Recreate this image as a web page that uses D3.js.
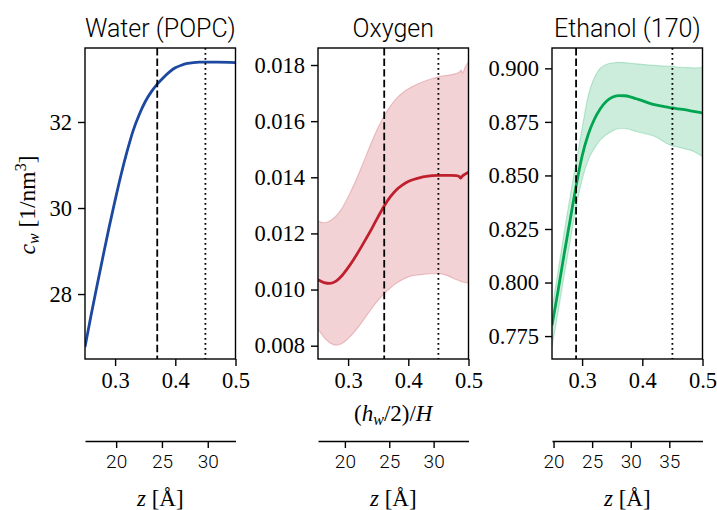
<!DOCTYPE html>
<html><head><meta charset="utf-8">
<script src="https://cdn.jsdelivr.net/npm/d3@7"></script>
<style>body{margin:0;background:#fff}</style>
</head><body>
<svg id="chart" width="717" height="510"></svg>
<script>
// ---------- DATA ----------
const titles = ["Water (POPC)", "Oxygen", "Ethanol (170)"];
const ratioTicks = [0.3, 0.4, 0.5];
const dashedPos = [0.37, 0.36, 0.29];
const dottedPos = [0.45, 0.45, 0.45];

const waterX = [0.25,0.26,0.27,0.28,0.29,0.30,0.31,0.32,0.33,0.34,0.35,0.36,0.37,0.38,0.39,0.40,0.41,0.42,0.43,0.44,0.45,0.47,0.50];
const waterY = [26.77,27.50,28.20,28.88,29.55,30.18,30.78,31.32,31.80,32.17,32.47,32.70,32.88,33.03,33.16,33.26,33.32,33.36,33.38,33.39,33.39,33.39,33.38];
const waterTicks = [28, 30, 32];

const oxyX = [0.25,0.26,0.27,0.28,0.29,0.30,0.31,0.32,0.33,0.34,0.35,0.36,0.37,0.38,0.39,0.40,0.41,0.42,0.43,0.44,0.45,0.46,0.47,0.48,0.485,0.487,0.49,0.495,0.50];
const oxyMean = [0.01035,0.01025,0.01022,0.01030,0.01050,0.01078,0.01110,0.01145,0.01182,0.01220,0.01260,0.01298,0.01330,0.01355,0.01372,0.01385,0.01393,0.01399,0.01403,0.01406,0.01407,0.01407,0.01407,0.01406,0.01402,0.01397,0.01405,0.01412,0.01418];
const oxyBandX = [0.25,0.26,0.27,0.28,0.29,0.30,0.31,0.32,0.33,0.34,0.35,0.36,0.37,0.38,0.39,0.40,0.42,0.44,0.45,0.46,0.47,0.48,0.485,0.488,0.49,0.495,0.50];
const oxyUpper = [0.01245,0.01238,0.01245,0.01262,0.01290,0.01330,0.01375,0.01425,0.01478,0.01530,0.01578,0.01620,0.01653,0.01680,0.01700,0.01715,0.01737,0.01752,0.01758,0.01762,0.01765,0.01770,0.01775,0.01782,0.01772,0.01795,0.01810];
const oxyLower = [0.00860,0.00830,0.00810,0.00802,0.00808,0.00825,0.00848,0.00875,0.00905,0.00935,0.00962,0.00985,0.01005,0.01022,0.01035,0.01045,0.01053,0.01057,0.01057,0.01053,0.01045,0.01035,0.01031,0.01029,0.01027,0.01025,0.01024];
const oxyTicks = [0.008, 0.010, 0.012, 0.014, 0.016, 0.018];

const ethX = [0.25,0.26,0.27,0.28,0.29,0.30,0.31,0.32,0.33,0.34,0.35,0.36,0.37,0.38,0.39,0.40,0.41,0.42,0.43,0.44,0.45,0.46,0.47,0.48,0.49,0.50];
const ethMean = [0.780,0.796,0.813,0.829,0.845,0.859,0.869,0.876,0.881,0.8845,0.8865,0.8873,0.8872,0.8867,0.8858,0.8849,0.8839,0.8831,0.8825,0.8820,0.8815,0.8811,0.8807,0.8802,0.8797,0.8792];
const ethUpper = [0.788,0.805,0.823,0.840,0.856,0.872,0.887,0.8955,0.900,0.9018,0.9025,0.9028,0.9027,0.9024,0.9021,0.9019,0.9016,0.9014,0.9012,0.9010,0.9010,0.9005,0.9004,0.9003,0.9002,0.9005];
const ethLower = [0.770,0.786,0.803,0.819,0.835,0.848,0.857,0.8625,0.8665,0.869,0.8708,0.8718,0.872,0.8714,0.8705,0.8698,0.8692,0.8683,0.8668,0.865,0.8638,0.8632,0.8625,0.8618,0.8605,0.8588];
const ethTicks = [0.775, 0.800, 0.825, 0.850, 0.875, 0.900];

const yDomains = [[26.49, 33.72], [0.007526, 0.018606], [0.7643, 0.9095]];
const zDomains = [[16.6, 33.03], [16.97, 33.93], [19.8, 39.3]];
const zTicks = [[20, 25, 30], [20, 25, 30], [20, 25, 30, 35]];

// ---------- LAYOUT ----------
const svg = d3.select("#chart");
const panelLeft = [85, 318, 552];
const panelW = 150.5;
const plotTop = 48, plotBottom = 359;
const zAxisY = 441;
const serif = "'Liberation Serif', 'DejaVu Serif', serif";
const sans = "Roboto, 'Open Sans', sans-serif";
const colors = ["#1c48a0", "#c0202e", "#00a550"];

const yFormats = [d3.format("d"), d3.format(".3f"), d3.format(".3f")];
const yTicksAll = [waterTicks, oxyTicks, ethTicks];

for (let i = 0; i < 3; i++) {
  const x0 = panelLeft[i];
  const x = d3.scaleLinear().domain([0.25, 0.5]).range([x0, x0 + panelW]);
  const y = d3.scaleLinear().domain(yDomains[i]).range([plotBottom, plotTop]);
  const g = svg.append("g");
  const clipId = "clip" + i;
  svg.append("clipPath").attr("id", clipId).append("rect")
    .attr("x", x0).attr("y", plotTop).attr("width", panelW).attr("height", plotBottom - plotTop);
  const plot = g.append("g").attr("clip-path", `url(#${clipId})`);

  if (i === 0) {
    const line = d3.line().x((d, k) => x(waterX[k])).y(d => y(d)).curve(d3.curveMonotoneX);
    plot.append("path").attr("d", line(waterY)).attr("fill", "none")
      .attr("stroke", colors[0]).attr("stroke-width", 2.8);
  } else {
    const bx = i === 1 ? oxyBandX : ethX;
    const up = i === 1 ? oxyUpper : ethUpper;
    const lo = i === 1 ? oxyLower : ethLower;
    const mx = i === 1 ? oxyX : ethX;
    const mv = i === 1 ? oxyMean : ethMean;
    const area = d3.area().x((d, k) => x(bx[k])).y0((d, k) => y(lo[k])).y1(d => y(d)).curve(d3.curveMonotoneX);
    plot.append("path").attr("d", area(up)).attr("fill", colors[i]).attr("fill-opacity", 0.2);
    const lineU = d3.line().x((d, k) => x(bx[k])).y(d => y(d)).curve(d3.curveMonotoneX);
    plot.append("path").attr("d", lineU(up)).attr("fill", "none").attr("stroke", colors[i]).attr("stroke-opacity", 0.22).attr("stroke-width", 1.2);
    plot.append("path").attr("d", lineU(lo)).attr("fill", "none").attr("stroke", colors[i]).attr("stroke-opacity", 0.22).attr("stroke-width", 1.2);
    const line = d3.line().x((d, k) => x(mx[k])).y(d => y(d)).curve(d3.curveMonotoneX);
    plot.append("path").attr("d", line(mv)).attr("fill", "none")
      .attr("stroke", colors[i]).attr("stroke-width", 2.8);
  }

  // vertical reference lines
  g.append("line").attr("x1", x(dashedPos[i])).attr("x2", x(dashedPos[i]))
    .attr("y1", plotTop).attr("y2", plotBottom).attr("stroke", "#000").attr("stroke-width", 1.8)
    .attr("stroke-dasharray", "7.4,3.2");
  g.append("line").attr("x1", x(dottedPos[i])).attr("x2", x(dottedPos[i]))
    .attr("y1", plotTop).attr("y2", plotBottom).attr("stroke", "#000").attr("stroke-width", 1.8)
    .attr("stroke-dasharray", "1.8,3.2");

  // frame
  g.append("rect").attr("x", x0).attr("y", plotTop).attr("width", panelW).attr("height", plotBottom - plotTop)
    .attr("fill", "none").attr("stroke", "#000").attr("stroke-width", 1.4);

  // bottom axis
  const xa = g.append("g").attr("transform", `translate(0,${plotBottom})`)
    .call(d3.axisBottom(x).tickValues(ratioTicks).tickFormat(d3.format(".1f")).tickSize(7).tickPadding(6));
  // left axis
  const ya = g.append("g").attr("transform", `translate(${x0},0)`)
    .call(d3.axisLeft(y).tickValues(yTicksAll[i]).tickFormat(yFormats[i]).tickSize(7).tickPadding(6));
  [xa, ya].forEach(a => {
    a.select(".domain").remove();
    a.selectAll(".tick line").attr("stroke", "#000").attr("stroke-width", 1.4);
    a.selectAll(".tick text").attr("font-family", serif).attr("font-size", 22.5).attr("fill", "#000");
  });

  // secondary z axis
  const z = d3.scaleLinear().domain(zDomains[i]).range([x0, x0 + panelW]);
  const za = g.append("g").attr("transform", `translate(0,${zAxisY})`)
    .call(d3.axisBottom(z).tickValues(zTicks[i]).tickFormat(d3.format("d")).tickSize(7).tickSizeOuter(0).tickPadding(7));
  za.select(".domain").attr("stroke", "#000").attr("stroke-width", 1.4);
  za.selectAll(".tick line").attr("stroke", "#000").attr("stroke-width", 1.4);
  za.selectAll(".tick text").attr("font-family", sans).attr("font-weight", 300).attr("font-size", 19).attr("fill", "#000");

  // z label
  const zl = g.append("text").attr("x", x0 + panelW / 2).attr("y", 506)
    .attr("text-anchor", "middle").attr("font-family", serif).attr("font-size", 23);
  zl.append("tspan").attr("font-style", "italic").text("z");
  zl.append("tspan").text(" [Å]");

  // title
  g.append("text").attr("x", x0 + panelW / 2).attr("y", 37).attr("text-anchor", "middle")
    .attr("font-family", sans).attr("font-weight", 300).attr("font-size", 25).attr("fill", "#000").text(titles[i]);
}

// x label (middle)
const xl = svg.append("text").attr("x", panelLeft[1] + panelW / 2).attr("y", 421)
  .attr("text-anchor", "middle").attr("font-family", serif).attr("font-size", 23);
xl.append("tspan").text("(");
xl.append("tspan").attr("font-style", "italic").text("h");
xl.append("tspan").attr("font-style", "italic").attr("font-size", 16).attr("dy", 4).text("w");
xl.append("tspan").attr("dy", -4).text("/2)/");
xl.append("tspan").attr("font-style", "italic").text("H");

// y label
const yl = svg.append("text").attr("transform", "translate(35,205) rotate(-90)")
  .attr("text-anchor", "middle").attr("font-family", serif).attr("font-size", 23.5);
yl.append("tspan").attr("font-style", "italic").text("c");
yl.append("tspan").attr("font-style", "italic").attr("font-size", 16).attr("dy", 4).text("w");
yl.append("tspan").attr("dy", -4).text(" [1/nm");
yl.append("tspan").attr("font-size", 16).attr("dy", -9).text("3");
yl.append("tspan").attr("dy", 9).text("]");
</script>
</body></html>
